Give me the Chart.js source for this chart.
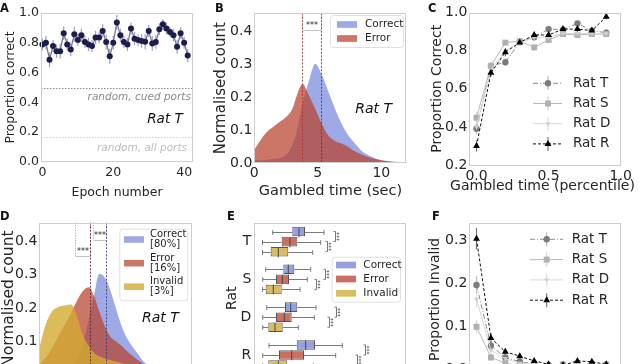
<!DOCTYPE html>
<html>
<head>
<meta charset="utf-8">
<script src="https://cdn.jsdelivr.net/npm/chart.js@4.4.1/dist/chart.umd.min.js"></script>
<style>
html,body{margin:0;padding:0;background:#fff;}
body{width:640px;height:364px;overflow:hidden;position:relative;}
.pan{position:absolute;}
.tag{position:absolute;font:bold 11.5px "DejaVu Sans",sans-serif;color:#111;line-height:12px;}
</style>
</head>
<body>
<div class="pan" style="left:0;top:0;width:200px;height:200px"><canvas id="chA"></canvas></div>
<div class="pan" style="left:210px;top:0;width:200px;height:200px"><canvas id="chB"></canvas></div>
<div class="pan" style="left:425px;top:0;width:215px;height:200px"><canvas id="chC"></canvas></div>
<div class="pan" style="left:-1px;top:200px;width:201px;height:200px"><canvas id="chD"></canvas></div>
<div class="pan" style="left:222px;top:200px;width:188px;height:200px"><canvas id="chE"></canvas></div>
<div class="pan" style="left:425px;top:200px;width:215px;height:200px"><canvas id="chF"></canvas></div>
<div class="tag" style="left:0;top:2px">A</div>
<div class="tag" style="left:215px;top:2px">B</div>
<div class="tag" style="left:428px;top:2px">C</div>
<div class="tag" style="left:0;top:210px">D</div>
<div class="tag" style="left:227px;top:210px">E</div>
<div class="tag" style="left:432px;top:210px">F</div>
<script>
// ---- A: proportion correct per epoch (rat T)
const aEpoch = [0,1,2,3,4,5,6,7,8,9,10,11,12,13,14,15,16,17,18,19,20,21,22,23,24,25,26,27,28,29,30,31,32,33,34,35,36,37,38,39,40,41];
const aProp = [0.789,0.80,0.687,0.778,0.744,0.744,0.864,0.789,0.755,0.857,
  0.818,0.85,0.805,0.789,0.778,0.835,0.835,0.88,0.805,0.71,
  0.80,0.937,0.85,0.805,0.789,0.896,0.828,0.818,0.812,0.807,
  0.88,0.796,0.805,0.891,0.925,0.896,0.873,0.85,0.773,0.864,
  0.80,0.714];
const aErr = [0.04,0.045,0.05,0.04,0.045,0.05,0.045,0.04,0.045,0.05,
  0.04,0.045,0.04,0.045,0.04,0.045,0.04,0.045,0.05,0.05,
  0.045,0.05,0.045,0.04,0.045,0.04,0.045,0.04,0.045,0.05,
  0.04,0.05,0.045,0.04,0.035,0.04,0.035,0.04,0.045,0.04,
  0.04,0.045];
const aChance = [0.5, 0.1667];          // cued ports, all ports
const aXTicks = [0,20,40];
const aYTicks = [0,0.2,0.4,0.6,0.8,1.0];

// ---- B: gambled-time densities (rat T)
const bTime = [0,0.5,1,1.5,2,2.5,3,3.3,3.8,4.3,4.8,5.3,5.8,6.3,6.8,7.3,7.8,8.5,9.2,10,11,12];
const bCorrect = [0.01,0.008,0.01,0.012,0.015,0.025,0.055,0.09,0.18,0.25,0.302,0.27,0.22,0.17,0.125,0.09,0.065,0.035,0.02,0.008,0.003,0.001];
const bError = [0.04,0.07,0.095,0.11,0.125,0.14,0.165,0.2,0.24,0.205,0.165,0.12,0.085,0.068,0.06,0.052,0.038,0.025,0.015,0.008,0.004,0.002];
const bMedians = [3.76,5.27];           // error, correct
const bBrackets = [[3.76,5.27,0.405]];
const bXTicks = [0,5,10];
const densTicks = [0,0.1,0.2,0.3,0.4];

// ---- C / F: per-percentile curves for four rats
const pct = [0,0.1,0.2,0.3,0.4,0.5,0.6,0.7,0.8,0.9];
const cT = [0.39,0.719,0.739,0.845,0.87,0.913,0.91,0.943,0.905,0.894];
const cS = [0.448,0.72,0.842,0.85,0.817,0.856,0.887,0.882,0.887,0.887];
const cD = [0.40,0.70,0.80,0.84,0.87,0.87,0.89,0.89,0.89,0.89];
const cR = [0.30,0.684,0.791,0.843,0.882,0.882,0.913,0.913,0.905,0.978];
const cTErr = [0.03,0.02,0.02,0.015,0.015,0.015,0.015,0.015,0.015,0.02];
const cSErr = [0.03,0.02,0.015,0.015,0.015,0.015,0.015,0.015,0.015,0.015];
const cDErr = [0.03,0.02,0.015,0.015,0.015,0.015,0.015,0.015,0.015,0.015];
const cRErr = [0.03,0.02,0.02,0.015,0.015,0.015,0.015,0.015,0.015,0.015];
const cYTicks = [0.2,0.4,0.6,0.8,1.0];
const pctTicks = [0,0.5,1.0];
const fT = [0.196,0.055,0.028,0.018,0.013,0.01,0.012,0.01,0.012,0.01];
const fS = [0.099,0.028,0.015,0.008,0.01,0.008,0.008,0.01,0.01,0.012];
const fD = [0.163,0.045,0.025,0.015,0.012,0.01,0.01,0.01,0.01,0.01];
const fR = [0.303,0.073,0.041,0.031,0.02,0.012,0.01,0.02,0.018,0.012];
const fTErr = [0.02,0.01,0.008,0.006,0.005,0.004,0.004,0.004,0.004,0.004];
const fSErr = [0.015,0.008,0.006,0.004,0.004,0.004,0.004,0.004,0.004,0.004];
const fDErr = [0.02,0.01,0.008,0.006,0.005,0.004,0.004,0.004,0.004,0.004];
const fRErr = [0.025,0.012,0.008,0.006,0.005,0.004,0.004,0.004,0.004,0.004];
const fYTicks = [0,0.1,0.2,0.3];
const ratNames = ['Rat T','Rat S','Rat D','Rat R'];

// ---- D: densities incl. invalid trials (rat T)
const dTime = [0,0.5,1,1.5,2,2.5,3,3.4,3.9,4.3,4.7,5.2,5.6,6,6.4,6.8,7.2,7.7,8.2,9,10,11,12];
const dCorrect = [0.005,0.006,0.008,0.01,0.015,0.025,0.05,0.09,0.17,0.24,0.302,0.287,0.25,0.2,0.152,0.115,0.09,0.064,0.038,0.02,0.008,0.003,0.001];
const dError = [0.03,0.05,0.08,0.115,0.15,0.185,0.225,0.25,0.262,0.235,0.19,0.14,0.113,0.1,0.088,0.073,0.06,0.045,0.032,0.018,0.008,0.003,0.001];
const dInvalid = [0.08,0.15,0.19,0.203,0.207,0.21,0.17,0.12,0.085,0.065,0.055,0.048,0.044,0.04,0.035,0.03,0.026,0.021,0.017,0.011,0.006,0.003,0.001];
const dShares = ['[80%]','[16%]','[3%]'];
const dMedians = [3.94,5.25];
const dBrackets = [[2.79,3.94,0.356],[4.2,5.25,0.402]];

// ---- E: box stats per rat [low whisker, q1, median, q3, high whisker]
const eRats = ['T','S','D','R'];
const eCorrect = [[1.02,2.98,3.65,4.25,6.15],[0.32,2.08,2.58,3.18,4.82],[0.42,2.25,2.82,3.48,5.35],[0.65,3.42,4.32,5.25,7.98]];
const eError = [[0,1.92,2.75,3.48,5.82],[0.02,1.35,1.98,2.65,4.48],[0.02,1.35,2.18,2.92,5.18],[0.02,1.65,2.92,4.15,7.32]];
const eInvalid = [[0,0.82,1.58,2.58,5.02],[0,0.32,1.08,1.92,3.75],[0.02,0.58,1.25,2.02,3.58],[0.02,0.58,1.58,2.48,5.08]];
const eSigX = [[6.45,7.25],[5.35,6.25],[6.65,7.35],[9.45,10.25]];   // error-invalid, correct-error

const FONT = '"DejaVu Sans", sans-serif';
const BLUE = 'rgba(76,100,210,0.55)', RED = 'rgba(185,65,45,0.72)', YEL = 'rgba(210,170,50,0.8)';
const EB = '#95a0df', ER = '#cc6f63', EY = '#d9bd62';

Chart.defaults.font.family = FONT;
Chart.defaults.color = '#262626';
Chart.defaults.animation = false;
Chart.defaults.responsive = true;
Chart.defaults.maintainAspectRatio = false;
Chart.defaults.events = [];
Chart.defaults.plugins.legend.display = false;
Chart.defaults.plugins.tooltip.enabled = false;

function axis(o){
  const side = o.pos;
  return {
    type:'linear', position:side, min:o.min, max:o.max,
    afterBuildTicks: s => { s.ticks = (o.ticks||[]).map(v=>({value:v})); },
    afterFit: s => { if(side==='left') s.width = o.size; else s.height = o.size; },
    grid:{display:false, drawTicks:false}, border:{display:false},
    ticks:{display:!!o.ticks, padding:o.pad ?? 2, autoSkip:false, maxRotation:0,
      font:{size:o.fs||14}, callback:o.fmt || (v=>v.toFixed(1))},
    title:{display:!!o.title, text:o.title||'', font:{size:o.tfs||14}, padding:{top:o.tpad||0, bottom:0}}
  };
}

const framePlugin = {id:'frame', afterDraw(c){
  const a=c.chartArea, x=c.ctx;
  x.save(); x.strokeStyle='#cdcdcd'; x.lineWidth=1;
  x.strokeRect(Math.round(a.left)+0.5, Math.round(a.top)+0.5, Math.round(a.right-a.left)-1, Math.round(a.bottom-a.top)-1);
  x.restore();
}};

// x-axis title drawn without the width limit Chart.js applies (text is wider than the plot)
function wideTitle(text, size, y){
  return {id:'wtitle', afterDraw(c){
    const {ctx, chartArea:a} = c;
    ctx.save(); ctx.font=`${size}px ${FONT}`; ctx.fillStyle='#262626';
    ctx.textAlign='center'; ctx.textBaseline='middle';
    ctx.fillText(text, (a.left+a.right)/2-3, y);
    ctx.restore();
  }};
}

const errPlugin = {id:'errs', beforeDatasetsDraw(c){
  const ctx=c.ctx, ys=c.scales.y;
  c.data.datasets.forEach((ds,i)=>{
    if(!ds.errs) return;
    const meta=c.getDatasetMeta(i);
    ctx.save(); ctx.strokeStyle=ds.errColor; ctx.lineWidth=1.2;
    meta.data.forEach((pt,j)=>{
      const v=ds.data[j].y, e=ds.errs[j];
      ctx.beginPath(); ctx.moveTo(pt.x, ys.getPixelForValue(v-e)); ctx.lineTo(pt.x, ys.getPixelForValue(v+e)); ctx.stroke();
    });
    ctx.restore();
  });
}};

function notes(list){
  return {id:'notes', afterDatasetsDraw(c){
    const {ctx, scales:{x,y}} = c;
    ctx.save(); ctx.textAlign='right'; ctx.textBaseline='middle';
    list.forEach(n=>{
      ctx.font = `italic ${n.size}px ${FONT}`; ctx.fillStyle=n.color;
      ctx.fillText(n.text, x.getPixelForValue(n.x), y.getPixelForValue(n.y));
    });
    ctx.restore();
  }};
}

const chancePlugin = {id:'chance', beforeDatasetsDraw(c){
  const {ctx, chartArea:a, scales:{y}} = c;
  aChance.forEach((v,i)=>{
    const py=Math.round(y.getPixelForValue(v))+0.5;
    ctx.save(); ctx.strokeStyle=i?'#cfcfcf':'#8f8f8f'; ctx.lineWidth=1; ctx.setLineDash([1.5,1.5]);
    ctx.beginPath(); ctx.moveTo(a.left,py); ctx.lineTo(a.right,py); ctx.stroke(); ctx.restore();
  });
}};

function sigPlugin(medians, medColors, brackets){
  return {id:'sig', afterDatasetsDraw(c){
    const {ctx, chartArea:a, scales:{x,y}} = c;
    const seg=(x1,y1,x2,y2)=>{ctx.beginPath();ctx.moveTo(x1,y1);ctx.lineTo(x2,y2);ctx.stroke();};
    ctx.save(); ctx.lineWidth=1;
    brackets.forEach(([v1,v2,yv])=>{
      const p1=Math.round(x.getPixelForValue(v1))+0.5, p2=Math.round(x.getPixelForValue(v2))+0.5, py=Math.round(y.getPixelForValue(yv))+0.5;
      ctx.strokeStyle='rgba(130,130,130,0.8)'; ctx.setLineDash([1,1.5]);
      seg(p1,a.top,p1,py); seg(p2,a.top,p2,py);
      ctx.setLineDash([]); ctx.strokeStyle='#c4c4c4'; seg(p1,py,p2,py);
      ctx.fillStyle='#222'; ctx.font=`8px ${FONT}`; ctx.textAlign='center'; ctx.textBaseline='bottom';
      ctx.fillText('***',(p1+p2)/2,py-1);
    });
    medians.forEach((m,i)=>{
      const px=Math.round(x.getPixelForValue(m))+0.5;
      ctx.strokeStyle=medColors[i]; ctx.setLineDash([2,1.5]); seg(px,a.top,px,a.bottom);
    });
    ctx.restore();
  }};
}

function patchLegend(cfg){
  return {id:'plegend', afterDraw(c){
    const {ctx, chartArea:a} = c;
    const fx=a.left+cfg.dx, fy=a.top+cfg.dy;
    ctx.save();
    ctx.beginPath(); ctx.roundRect(fx+0.5,fy+0.5,cfg.w,cfg.h,3);
    ctx.fillStyle='rgba(255,255,255,0.85)'; ctx.fill(); ctx.strokeStyle='#e0e0e0'; ctx.lineWidth=1; ctx.stroke();
    ctx.font=`${cfg.fs}px ${FONT}`; ctx.textAlign='left'; ctx.textBaseline='middle';
    c.data.datasets.forEach((ds,i)=>{
      ctx.fillStyle=ds.backgroundColor;
      ctx.fillRect(fx+cfg.px, fy+cfg.rows[i]-cfg.ph/2, cfg.pw, cfg.ph);
      ctx.fillStyle='#262626';
      const lines = cfg.extra ? [ds.label, cfg.extra[i]] : [ds.label];
      lines.forEach((t,k)=>ctx.fillText(t, fx+cfg.tx, fy+cfg.rows[i]+(k-(lines.length-1)/2)*cfg.lh));
    });
    ctx.restore();
  }};
}

function drawMarker(ctx, ds, x, y){
  const r=ds.pointRadius, st=ds.pointStyle;
  ctx.fillStyle=ds.pointBackgroundColor;
  ctx.beginPath();
  if(st==='circle') ctx.arc(x,y,r,0,2*Math.PI);
  else if(st==='rect'){ const s=r*Math.SQRT1_2; ctx.rect(x-s,y-s,2*s,2*s); }
  else {
    let t=(ds.pointRotation||0)*Math.PI/180;
    ctx.moveTo(x+Math.sin(t)*r, y-Math.cos(t)*r);
    t+=2*Math.PI/3; ctx.lineTo(x+Math.sin(t)*r, y-Math.cos(t)*r);
    t+=2*Math.PI/3; ctx.lineTo(x+Math.sin(t)*r, y-Math.cos(t)*r);
    ctx.closePath();
  }
  ctx.fill();
}

function ratLegend(cfg){
  return {id:'rlegend', afterDraw(c){
    const {ctx, chartArea:a} = c;
    ctx.save(); ctx.font=`${cfg.fs}px ${FONT}`; ctx.textAlign='left'; ctx.textBaseline='middle';
    c.data.datasets.forEach((ds,i)=>{
      const y=a.top+cfg.y0+i*cfg.dy, mx=a.left+cfg.mx;
      ctx.strokeStyle=ds.borderColor; ctx.lineWidth=1; ctx.setLineDash(ds.borderDash||[]);
      ctx.beginPath(); ctx.moveTo(a.left+cfg.x0,y); ctx.lineTo(a.left+cfg.x1,y); ctx.stroke();
      ctx.setLineDash([]); ctx.strokeStyle=ds.errColor; ctx.lineWidth=1.2;
      ctx.beginPath(); ctx.moveTo(mx,y-7); ctx.lineTo(mx,y+7); ctx.stroke();
      drawMarker(ctx, ds, mx, y);
      ctx.fillStyle='#262626'; ctx.fillText(ds.label, a.left+cfg.tx, y);
    });
    ctx.restore();
  }};
}

const boxPlugin = {id:'boxes', afterDatasetsDraw(c){
  const ctx=c.ctx, xs=c.scales.x, px=v=>xs.getPixelForValue(v);
  c.data.datasets.forEach((ds,i)=>{
    c.getDatasetMeta(i).data.forEach((bar,j)=>{
      const s=ds.stats[j], y=Math.round(bar.y)+0.5, h=bar.height;
      ctx.save(); ctx.lineWidth=1; ctx.strokeStyle='#7a7a7a';
      ctx.beginPath();
      ctx.moveTo(px(s[0]),y); ctx.lineTo(px(s[1]),y);
      ctx.moveTo(px(s[3]),y); ctx.lineTo(px(s[4]),y);
      ctx.moveTo(px(s[0]),y-h/4); ctx.lineTo(px(s[0]),y+h/4);
      ctx.moveTo(px(s[4]),y-h/4); ctx.lineTo(px(s[4]),y+h/4);
      ctx.stroke();
      ctx.strokeStyle='#474747'; ctx.beginPath();
      ctx.moveTo(px(s[2]),y-h/2); ctx.lineTo(px(s[2]),y+h/2); ctx.stroke();
      ctx.restore();
    });
  });
}};

const eSigPlugin = {id:'esig', afterDatasetsDraw(c){
  const ctx=c.ctx, xs=c.scales.x;
  const bars=[0,1,2].map(i=>c.getDatasetMeta(i).data);
  ctx.save(); ctx.lineWidth=1; ctx.strokeStyle='#777'; ctx.fillStyle='#333';
  ctx.font=`6px ${FONT}`; ctx.textAlign='center'; ctx.textBaseline='middle';
  eSigX.forEach((pair,j)=>{
    [[1,2,pair[0]],[0,1,pair[1]]].forEach(([a,b,v])=>{
      const x=Math.round(xs.getPixelForValue(v))+0.5, y1=bars[a][j].y, y2=bars[b][j].y;
      ctx.beginPath(); ctx.moveTo(x-2,y1); ctx.lineTo(x,y1); ctx.lineTo(x,y2); ctx.lineTo(x-2,y2); ctx.stroke();
      ctx.save(); ctx.translate(x+4,(y1+y2)/2); ctx.rotate(-Math.PI/2); ctx.fillText('***',0,0); ctx.restore();
    });
  });
  ctx.restore();
}};

function kde(xs, ys, color, label, order){
  return {label, data:xs.map((t,i)=>({x:t,y:ys[i]})), fill:'origin', backgroundColor:color,
    borderColor:'transparent', borderWidth:0, pointRadius:0, cubicInterpolationMode:'monotone', order};
}

function ratSet(label, xs, ys, errs, st){
  return Object.assign({label, data:xs.map((p,i)=>({x:p,y:ys[i]})), errs, borderWidth:1, tension:0,
    pointBorderWidth:0, clip:false}, st);
}
const ratStyles = [
  {borderColor:'#8c8c8c', borderDash:[5,2,1,2], pointStyle:'circle', pointRadius:3.2, pointBackgroundColor:'#7c7c7c', errColor:'rgba(140,140,140,0.6)', order:4},
  {borderColor:'#b8b8b8', pointStyle:'rect', pointRadius:4.2, pointBackgroundColor:'#b0b0b0', errColor:'rgba(180,180,180,0.6)', order:3},
  {borderColor:'#d8d8d8', pointStyle:'triangle', pointRotation:180, pointRadius:2.8, pointBackgroundColor:'#cfcfcf', errColor:'rgba(210,210,210,0.7)', order:2},
  {borderColor:'#111', borderDash:[3,2], pointStyle:'triangle', pointRadius:4, pointBackgroundColor:'#000', errColor:'rgba(60,60,60,0.7)', order:1}
];

// A
new Chart(document.getElementById('chA'),{
  type:'line',
  data:{datasets:[{
    data:aEpoch.map((e,i)=>({x:e,y:aProp[i]})), errs:aErr, errColor:'rgba(125,125,170,0.75)',
    borderColor:'#70709a', borderWidth:1.2, tension:0, clip:false,
    pointRadius:3, pointBackgroundColor:'#1d1d4d', pointBorderWidth:0
  }]},
  options:{
    layout:{padding:{top:13,right:7,left:0,bottom:0}},
    scales:{
      x:axis({pos:'bottom',min:-0.4,max:42.5,ticks:aXTicks,size:38,fs:12.5,pad:3,fmt:v=>String(v),title:'Epoch number',tfs:12.5,tpad:9.5}),
      y:axis({pos:'left',min:0,max:1,ticks:aYTicks,size:41,fs:12.5,title:'Proportion correct',tfs:12.5,tpad:3})
    }
  },
  plugins:[chancePlugin, errPlugin, framePlugin, notes([
    {text:'random, cued ports', x:41.9, y:0.432, color:'#8a8a8a', size:10.5},
    {text:'Rat T', x:39.6, y:0.285, color:'#111', size:13.5},
    {text:'random, all ports', x:40.8, y:0.094, color:'#bdbdbd', size:10.5}
  ])]
});

// B
new Chart(document.getElementById('chB'),{
  type:'line',
  data:{datasets:[kde(bTime,bCorrect,BLUE,'Correct',2), kde(bTime,bError,RED,'Error',1)]},
  options:{
    layout:{padding:{top:13.3,right:3.3,left:0,bottom:0}},
    scales:{
      x:axis({pos:'bottom',min:0,max:12,ticks:bXTicks,size:37,fs:14,pad:2,fmt:v=>String(v),title:'Gambled time (sec)',tfs:14.5,tpad:5.3}),
      y:axis({pos:'left',min:0,max:0.455,ticks:densTicks,size:44.3,fs:14,title:'Normalised count',tfs:15,tpad:2})
    }
  },
  plugins:[sigPlugin(bMedians,['rgba(170,50,50,0.85)','rgba(60,60,110,0.85)'],bBrackets), framePlugin,
    patchLegend({dx:75.7,dy:1.7,w:73,h:32,px:7,pw:20,ph:6.7,tx:35,rows:[9.5,23.5],fs:10.5,lh:0}),
    notes([{text:'Rat T', x:10.84, y:0.164, color:'#111', size:14}])]
});

// C
new Chart(document.getElementById('chC'),{
  type:'line',
  data:{datasets:[
    ratSet(ratNames[0],pct,cT,cTErr,ratStyles[0]), ratSet(ratNames[1],pct,cS,cSErr,ratStyles[1]),
    ratSet(ratNames[2],pct,cD,cDErr,ratStyles[2]), ratSet(ratNames[3],pct,cR,cRErr,ratStyles[3])]},
  options:{
    layout:{padding:{top:12.5,right:18.3,left:0,bottom:0}},
    scales:{
      x:axis({pos:'bottom',min:-0.05,max:1.007,ticks:pctTicks,size:35,fs:14,pad:3}),
      y:axis({pos:'left',min:0.2,max:1.0,ticks:cYTicks,size:44.3,fs:14,title:'Proportion Correct',tfs:14,tpad:4.1})
    }
  },
  plugins:[errPlugin, framePlugin, wideTitle('Gambled time (percentile)',14,186),
    ratLegend({x0:63.7,x1:92.7,mx:78.7,tx:103.7,y0:70.8,dy:20.2,fs:13.5})]
});

// D
new Chart(document.getElementById('chD'),{
  type:'line',
  data:{datasets:[kde(dTime,dCorrect,BLUE,'Correct',3), kde(dTime,dError,RED,'Error',2), kde(dTime,dInvalid,YEL,'Invalid',1)]},
  options:{
    layout:{padding:{top:22.7,right:7.7,left:0,bottom:0}},
    scales:{
      x:axis({pos:'bottom',min:0,max:12,size:25.3}),
      y:axis({pos:'left',min:0,max:0.455,ticks:densTicks,size:40.3,fs:14,title:'Normalised count',tfs:15.5,tpad:0.2})
    }
  },
  plugins:[sigPlugin(dMedians,['rgba(90,40,40,0.85)','rgba(60,60,110,0.85)'],dBrackets), framePlugin,
    patchLegend({dx:80,dy:6,w:68,h:71.6,px:4.7,pw:20,ph:6.5,tx:30.7,rows:[10.8,34.5,58],fs:10,lh:9.6,extra:dShares}),
    notes([{text:'Rat T', x:10.94, y:0.168, color:'#111', size:14}])]
});

// E
new Chart(document.getElementById('chE'),{
  type:'bar',
  data:{labels:eRats, datasets:[
    {label:'Correct', data:eCorrect.map(s=>[s[1],s[3]]), stats:eCorrect, backgroundColor:EB},
    {label:'Error', data:eError.map(s=>[s[1],s[3]]), stats:eError, backgroundColor:ER},
    {label:'Invalid', data:eInvalid.map(s=>[s[1],s[3]]), stats:eInvalid, backgroundColor:EY}]},
  options:{
    indexAxis:'y',
    datasets:{bar:{barPercentage:0.95, categoryPercentage:0.8, borderColor:'#555', borderWidth:1, borderSkipped:false}},
    layout:{padding:{top:22.7,right:3.3,left:0,bottom:0}},
    scales:{
      x:axis({pos:'bottom',min:-0.82,max:14.42,size:26.1}),
      y:{type:'category', position:'left', afterFit:s=>{s.width=32.3;},
        grid:{display:false,drawTicks:false}, border:{display:false},
        ticks:{padding:3,font:{size:14}},
        title:{display:true,text:'Rat',font:{size:14},padding:{top:1.6,bottom:0}}}
    }
  },
  plugins:[boxPlugin, eSigPlugin, framePlugin,
    patchLegend({dx:77.4,dy:34,w:68.3,h:45,px:4.3,pw:20,ph:6.7,tx:31.6,rows:[8.3,22.3,36.6],fs:10.5,lh:0})]
});

// F
new Chart(document.getElementById('chF'),{
  type:'line',
  data:{datasets:[
    ratSet(ratNames[0],pct,fT,fTErr,ratStyles[0]), ratSet(ratNames[1],pct,fS,fSErr,ratStyles[1]),
    ratSet(ratNames[2],pct,fD,fDErr,ratStyles[2]), ratSet(ratNames[3],pct,fR,fRErr,ratStyles[3])]},
  options:{
    layout:{padding:{top:22.7,right:18.3,left:0,bottom:0}},
    scales:{
      x:axis({pos:'bottom',min:-0.05,max:1.007,size:24}),
      y:axis({pos:'left',min:-0.015,max:0.34,ticks:fYTicks,size:44.3,fs:14,title:'Proportion Invalid',tfs:14,tpad:2.3})
    }
  },
  plugins:[errPlugin, framePlugin, ratLegend({x0:60.7,x1:93.7,mx:77.4,tx:102.4,y0:16.6,dy:20.3,fs:13.5})]
});
</script>
</body>
</html>
